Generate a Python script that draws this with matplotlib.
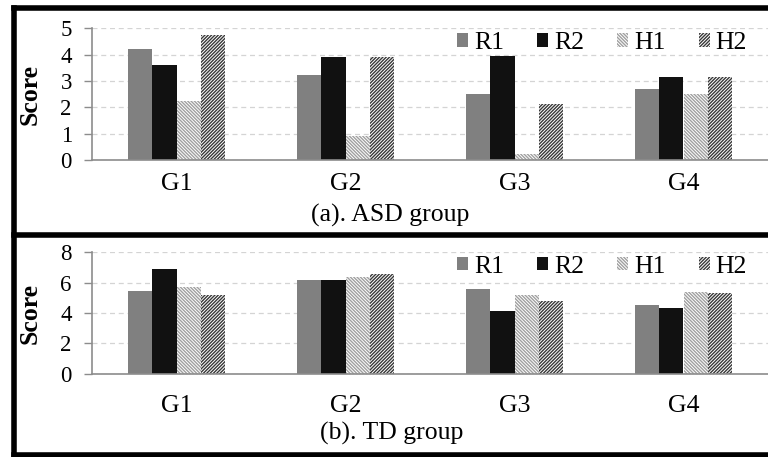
import matplotlib
matplotlib.use("Agg")
import matplotlib.pyplot as plt
from matplotlib.lines import Line2D
import numpy as np

groups = ["G1", "G2", "G3", "G4"]
series = ["R1", "R2", "H1", "H2"]

asd_R1 = [4.23, 3.23, 2.50, 2.71]
asd_R2 = [3.60, 3.92, 3.96, 3.14]
asd_H1 = [2.25, 0.91, 0.23, 2.50]
asd_H2 = [4.75, 3.92, 2.11, 3.14]

td_R1 = [5.47, 6.20, 5.58, 4.55]
td_R2 = [6.92, 6.20, 4.11, 4.33]
td_H1 = [5.69, 6.37, 5.16, 5.38]
td_H2 = [5.21, 6.59, 4.77, 5.30]

asd_ticks = [0, 1, 2, 3, 4, 5]
td_ticks = [0, 2, 4, 6, 8]

captions = ["(a). ASD group", "(b). TD group"]

plt.rcParams["font.family"] = ["Liberation Serif", "DejaVu Serif"]
plt.rcParams["hatch.linewidth"] = 1.0

W, H = 768, 457
fig = plt.figure(figsize=(W / 100, H / 100), dpi=100)

styles = [
    dict(color="#808080", edgecolor="none"),
    dict(color="#111111", edgecolor="none"),
    dict(color="white", edgecolor="#a0a0a0", hatch="\\" * 10, linewidth=0),
    dict(color="white", edgecolor="#383838", hatch="/" * 10, linewidth=0),
]


def panel(rect, data, ticks, xpad, leg_y):
    ax = fig.add_axes(rect)
    x = np.arange(len(groups))
    w = 1 / 7
    for i, (name, vals) in enumerate(zip(series, data)):
        ax.bar(x + (i - 1.5) * w, vals, w, label=name, **styles[i])
    ax.set_xlim(-0.5, 3.5)
    ax.set_ylim(ticks[0], ticks[-1])
    ax.set_yticks(ticks)
    ax.set_xticks(x)
    ax.set_xticklabels(groups, fontsize=18.5)
    ax.tick_params(axis="x", length=0, pad=xpad)
    ax.tick_params(axis="y", length=5.5, width=1, color="#8c8c8c", labelsize=16.5, pad=9)
    for s in ["top", "right"]:
        ax.spines[s].set_visible(False)
    for s in ["left", "bottom"]:
        ax.spines[s].set_color("#8c8c8c")
        ax.spines[s].set_linewidth(1.2)
    ax.set_axisbelow(True)
    ax.yaxis.grid(True, color="#d4d4d4", linestyle=(0, (4, 3)), linewidth=0.9)
    ax.set_ylabel("Score", fontsize=18.5, fontweight="bold")
    ax.yaxis.set_label_coords(-0.074, 0.5)
    ax.legend(ncol=4, loc="center right", bbox_to_anchor=(0.969, leg_y), frameon=False,
              fontsize=18.5, handlelength=0.42, handleheight=0.42, handletextpad=0.23,
              columnspacing=1.3, borderaxespad=0, borderpad=0)
    return ax


top_rect = [92 / W, 1 - 160 / H, 1 - 92 / W, (160 - 28.3) / H]
bot_rect = [92 / W, 1 - 373.7 / H, 1 - 92 / W, (373.7 - 252.3) / H]

ax1 = panel(top_rect, [asd_R1, asd_R2, asd_H1, asd_H2], asd_ticks, 9, 0.888)
ax2 = panel(bot_rect, [td_R1, td_R2, td_H1, td_H2], td_ticks, 15.5, 0.883)

fig.text(390 / W, 1 - 222 / H, captions[0], ha="center", va="baseline", fontsize=18.5)
fig.text(392 / W, 1 - 440 / H, captions[1], ha="center", va="baseline", fontsize=18.5)

# panel borders (pixel coords)
def hline(y, x0, x1):
    fig.add_artist(Line2D([x0 / W, x1 / W], [1 - y / H, 1 - y / H], color="black",
                          linewidth=4, transform=fig.transFigure, solid_capstyle="projecting"))

def vline(x, y0, y1):
    fig.add_artist(Line2D([x / W, x / W], [1 - y0 / H, 1 - y1 / H], color="black",
                          linewidth=4, transform=fig.transFigure, solid_capstyle="projecting"))

hline(8, 13.5, 800)
hline(235, 13.5, 800)
hline(455, 13.5, 800)
vline(13.5, 8, 455)

fig.savefig("out.png", dpi=100)
